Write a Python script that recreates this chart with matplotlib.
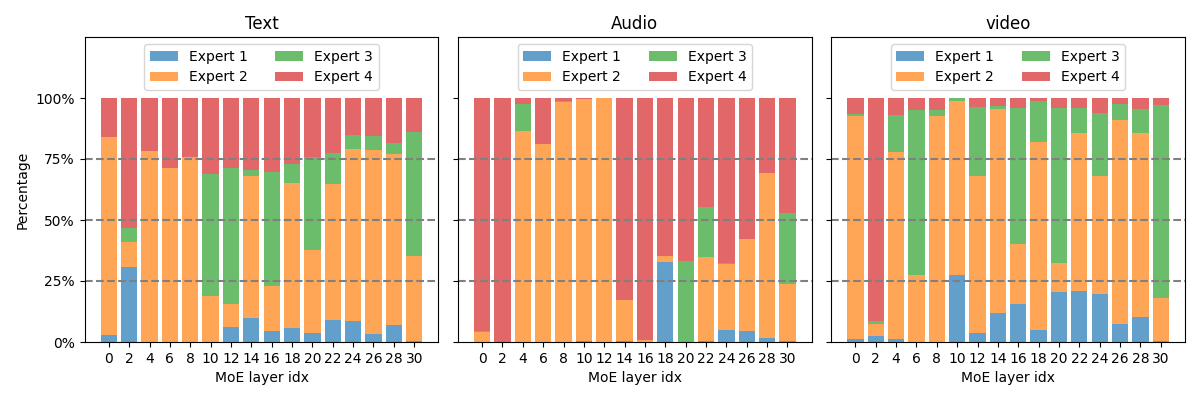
import matplotlib.pyplot as plt
import numpy as np
from matplotlib.ticker import PercentFormatter

layers = list(range(0, 32, 2))
experts = ['Expert 1', 'Expert 2', 'Expert 3', 'Expert 4']
colors = ['tab:blue', 'tab:orange', 'tab:green', 'tab:red']
titles = ['Text', 'Audio', 'video']

# percentages per layer, one list per expert
text_e1 = [2.9, 30.7, 0, 0, 0, 0, 6.1, 9.8, 4.5, 5.7, 3.7, 9.0, 8.6, 3.3, 7.0, 0.4]
text_e2 = [81.1, 10.3, 78.3, 71.3, 75.8, 18.9, 9.5, 58.2, 18.5, 59.5, 34.0, 55.8, 70.5, 75.4, 70.0, 34.8]
text_e3 = [0, 5.9, 0, 0, 0, 50.0, 55.7, 2.5, 46.7, 7.8, 38.1, 12.7, 5.7, 5.7, 4.6, 50.9]
text_e4 = [16.0, 53.1, 21.7, 28.7, 24.2, 31.1, 28.7, 29.5, 30.3, 27.0, 24.2, 22.5, 15.2, 15.6, 18.4, 13.9]

audio_e1 = [0, 0, 0, 0, 0, 0.4, 0, 0.4, 0, 32.8, 0, 0.4, 4.9, 4.5, 1.6, 0.4]
audio_e2 = [4.1, 0, 86.5, 81.1, 98.4, 99.2, 100, 16.8, 0.8, 2.4, 0, 34.4, 27.1, 37.7, 67.7, 23.4]
audio_e3 = [0.4, 0, 11.0, 0, 0.4, 0, 0, 0, 0, 0, 33.2, 20.5, 0.4, 0, 0, 29.1]
audio_e4 = [95.5, 100, 2.5, 18.9, 1.2, 0.4, 0, 82.8, 99.2, 64.8, 66.8, 44.7, 67.6, 57.8, 30.7, 47.1]

video_e1 = [1.2, 2.5, 1.2, 0, 0, 27.5, 3.7, 11.9, 15.6, 4.9, 20.5, 20.9, 19.7, 7.4, 10.2, 0.4]
video_e2 = [91.4, 4.9, 76.7, 27.5, 92.6, 71.3, 64.3, 83.6, 24.6, 77.1, 11.9, 64.8, 48.3, 83.6, 75.5, 17.6]
video_e3 = [0.8, 1.2, 15.1, 67.6, 2.5, 1.2, 28.3, 1.2, 55.7, 16.8, 63.5, 10.2, 25.9, 6.5, 9.8, 79.1]
video_e4 = [6.6, 91.4, 7.0, 4.9, 4.9, 0, 3.7, 3.3, 4.1, 1.2, 4.1, 4.1, 6.1, 2.5, 4.5, 2.9]

data = [
    [text_e1, text_e2, text_e3, text_e4],
    [audio_e1, audio_e2, audio_e3, audio_e4],
    [video_e1, video_e2, video_e3, video_e4],
]

fig, axes = plt.subplots(1, 3, figsize=(12, 4), dpi=100, sharey=True)
x = np.arange(len(layers))

for ax, title, series in zip(axes, titles, data):
    bottom = np.zeros(len(layers))
    for name, col, vals in zip(experts, colors, series):
        vals = np.array(vals) / 100
        ax.bar(x, vals, bottom=bottom, color=col, alpha=0.7, label=name)
        bottom += vals
    for yl in [0.25, 0.5, 0.75]:
        ax.axhline(yl, color='gray', linestyle='--', linewidth=1.5)
    ax.set_title(title)
    ax.set_xticks(x)
    ax.set_xticklabels(layers)
    ax.set_xlabel('MoE layer idx')
    ax.set_ylim(0, 1.25)
    ax.set_yticks([0, 0.25, 0.5, 0.75, 1.0])
    ax.yaxis.set_major_formatter(PercentFormatter(1.0, decimals=0))
    ax.legend(loc='upper center', ncol=2)

axes[0].set_ylabel('Percentage')

fig.subplots_adjust(left=0.0705, right=0.9875, top=0.9075, bottom=0.145, wspace=0.055)
plt.savefig('out.png')
